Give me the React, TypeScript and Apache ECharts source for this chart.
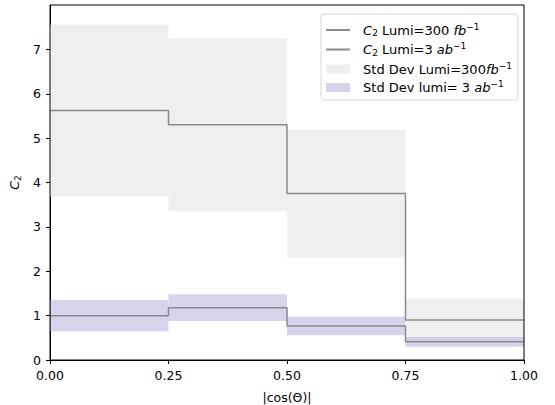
import React, { useEffect, useRef } from "react";
import * as echarts from "echarts";

const binEdges = [0, 0.25, 0.5, 0.75, 1.0];
const c2Lumi300 = [5.62, 5.3, 3.75, 0.9];
const c2Lumi3 = [1.0, 1.18, 0.765, 0.41];
const sd300Low = [3.68, 3.35, 2.31, 0.42];
const sd300High = [7.56, 7.25, 5.19, 1.38];
const sd3Low = [0.65, 0.88, 0.555, 0.3];
const sd3High = [1.35, 1.48, 0.975, 0.52];
const xTicks = [0, 0.25, 0.5, 0.75, 1.0];
const yTicks = [0, 1, 2, 3, 4, 5, 6, 7];

const FONT = "DejaVu Sans";

function stepData(vals: number[]) {
  const d: number[][] = vals.map((v, i) => [binEdges[i], v]);
  d.push([binEdges[binEdges.length - 1], vals[vals.length - 1]]);
  return d;
}

function bandData(lo: number[], hi: number[]) {
  return lo.map((l, i) => [binEdges[i], binEdges[i + 1], l, hi[i]]);
}

function bandRender(color: string) {
  return (params: any, api: any) => {
    const x0 = api.value(0);
    const x1 = api.value(1);
    const lo = api.value(2);
    const hi = api.value(3);
    const p0 = api.coord([x0, hi]);
    const p1 = api.coord([x1, lo]);
    return {
      type: "rect",
      shape: { x: p0[0], y: p0[1], width: p1[0] - p0[0], height: p1[1] - p0[1] },
      style: { fill: color },
    };
  };
}

const richAxis = {
  it: { fontStyle: "italic", fontFamily: FONT, fontSize: 12.5, color: "#000" },
  subn: { fontFamily: FONT, fontSize: 9, color: "#000", padding: [6, 0, 0, 0] },
};

const rich = {
  it: { fontStyle: "italic", fontFamily: FONT, fontSize: 13, color: "#000" },
  subn: { fontFamily: FONT, fontSize: 9, color: "#000", padding: [6, 0, 0, 0] },
  sup: { fontFamily: FONT, fontSize: 9, color: "#000", padding: [0, 0, 7, 0] },
  n: { fontFamily: FONT, fontSize: 13, color: "#000" },
};

const NAMES = [
  "C2 Lumi=300 fb-1",
  "C2 Lumi=3 ab-1",
  "Std Dev Lumi=300fb-1",
  "Std Dev lumi= 3 ab-1",
];

const LABELS: Record<string, string> = {
  [NAMES[0]]: "{it|C}{subn|2}{n| Lumi=300 }{it|fb}{sup|−1}",
  [NAMES[1]]: "{it|C}{subn|2}{n| Lumi=3 }{it|ab}{sup|−1}",
  [NAMES[2]]: "{n|Std Dev Lumi=300}{it|fb}{sup|−1}",
  [NAMES[3]]: "{n|Std Dev lumi= 3 }{it|ab}{sup|−1}",
};

export default function App() {
  const ref = useRef<HTMLDivElement>(null);
  useEffect(() => {
    if (!ref.current) return;
    const chart = echarts.init(ref.current, null, { renderer: "svg" });
    const lineColor = "#8a8a8a";
    chart.setOption({
      animation: false,
      textStyle: { fontFamily: FONT },
      grid: { left: 50, right: 31, top: 5, bottom: 45, containLabel: false, outerBoundsMode: "none" },
      xAxis: {
        type: "value",
        min: 0,
        max: 1,
        interval: 0.25,
        name: "|cos(Θ)|",
        nameLocation: "middle",
        nameGap: 31,
        nameTextStyle: { fontFamily: FONT, fontSize: 12.5, color: "#000" },
        axisLine: { show: true, onZero: false, lineStyle: { color: "#000", width: 1 } },
        axisTick: { show: true, length: 4, inside: false, customValues: xTicks, lineStyle: { color: "#000" } },
        axisLabel: {
          fontFamily: FONT,
          fontSize: 12.5,
          color: "#000",
          margin: 9,
          customValues: xTicks,
          formatter: (v: number) => v.toFixed(2),
        },
        splitLine: { show: false },
      },
      yAxis: {
        type: "value",
        min: 0,
        max: 8,
        interval: 1,
        name: "{it|C}{subn|2}",
        nameLocation: "middle",
        nameGap: 26,
        nameRotate: 90,
        nameTextStyle: { rich: richAxis },
        axisLine: { show: true, lineStyle: { color: "#000", width: 1 } },
        axisTick: { show: true, length: 4, customValues: yTicks, lineStyle: { color: "#000" } },
        axisLabel: {
          fontFamily: FONT,
          fontSize: 12.5,
          color: "#000",
          margin: 9,
          customValues: yTicks,
        },
        splitLine: { show: false },
      },
      legend: {
        show: true,
        orient: "vertical",
        right: 37,
        top: 14,
        padding: [8, 6, 6, 4],
        itemGap: 4,
        itemWidth: 24,
        itemHeight: 9,
        backgroundColor: "#fff",
        borderColor: "#d8d8d8",
        borderWidth: 1,
        borderRadius: 3,
        data: [
          { name: NAMES[0], itemStyle: { color: "rgba(0,0,0,0)", borderWidth: 0 } },
          { name: NAMES[1], itemStyle: { color: "rgba(0,0,0,0)", borderWidth: 0 } },
          { name: NAMES[2], icon: "rect" },
          { name: NAMES[3], icon: "rect" },
        ],
        formatter: (name: string) => LABELS[name],
        textStyle: { rich, padding: [0, 0, 0, 8] },
      },
      series: [
        {
          name: NAMES[2],
          type: "custom",
          renderItem: bandRender("#efefef"),
          itemStyle: { color: "#efefef" },
          encode: { x: [0, 1], y: [2, 3] },
          data: bandData(sd300Low, sd300High),
          z: 1,
        },
        {
          name: NAMES[3],
          type: "custom",
          renderItem: bandRender("rgba(200,196,228,0.75)"),
          itemStyle: { color: "#d5d3ea" },
          encode: { x: [0, 1], y: [2, 3] },
          data: bandData(sd3Low, sd3High),
          z: 2,
        },
        {
          name: NAMES[0],
          type: "line",
          step: "end",
          showSymbol: false,
          symbol: "none",
          lineStyle: { color: lineColor, width: 1.5 },
          itemStyle: { color: lineColor },
          data: stepData(c2Lumi300),
          z: 3,
        },
        {
          name: NAMES[1],
          type: "line",
          step: "end",
          showSymbol: false,
          symbol: "none",
          lineStyle: { color: lineColor, width: 1.5 },
          itemStyle: { color: lineColor },
          data: stepData(c2Lumi3),
          z: 3,
        },
      ],
      graphic: [
        {
          type: "rect",
          shape: { x: 50, y: 5, width: 474, height: 355 },
          style: { fill: "none", stroke: "#000", lineWidth: 1 },
          silent: true,
          z: 100,
        },
      ],
    });
    return () => chart.dispose();
  }, []);
  return <div ref={ref} style={{ width: 555, height: 405, position: "absolute", left: 0, top: 0 }} />;
}
